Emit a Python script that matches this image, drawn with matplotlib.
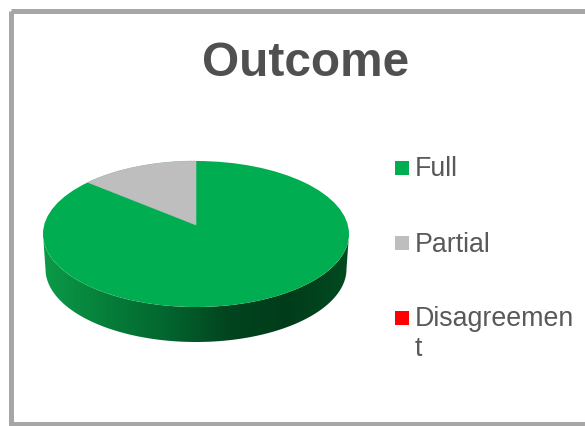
import numpy as np
import matplotlib
matplotlib.use("Agg")
import matplotlib.pyplot as plt
from matplotlib.patches import Rectangle, Polygon, Ellipse
from matplotlib.colors import LinearSegmentedColormap

plt.rcParams['font.family'] = ['Liberation Sans', 'DejaVu Sans']

# data
categories = ["Full", "Partial", "Disagreement"]
values = [7, 1, 0]
colors = ["#00AD50", "#BEBEBE", "#FF0000"]
legend_labels = ["Full", "Partial", "Disagreemen\nt"]
side_colors = ["#0B9A48", "#067F3A", "#03662F", "#02451F", "#013C1A", "#024A20"]

fig = plt.figure(figsize=(5.85, 4.26), dpi=100)
ax = fig.add_axes([0, 0, 1, 1])
ax.set_xlim(0, 585)
ax.set_ylim(426, 0)
ax.axis("off")

# frame, runs off the right side
ax.add_patch(Rectangle((10.5, 10.5), 600, 413.5, fill=False, ec="#A6A6A6", lw=3.6))

ax.text(305.5, 76, "Outcome", fontsize=34.4, fontweight="bold", color="#505050",
        ha="center", va="baseline")

# pie geometry in pixels
cx, cy = 196, 234
rx, ry = 153, 73
apex_y = 225
depth = 35

# side of the pie with gradient
t = np.linspace(0, np.pi, 200)
top_x = cx + rx * np.cos(t)
top_y = cy + ry * np.sin(t)
bot_x = cx + (rx - 2.5) * np.cos(t)
bot_y = cy + depth + ry * np.sin(t)
side = Polygon(np.r_[np.c_[top_x, top_y], np.c_[bot_x[::-1], bot_y[::-1]]],
               closed=True, fc="none", ec="none", transform=ax.transData)
ax.add_patch(side)
cmap = LinearSegmentedColormap.from_list("side", side_colors)
grad = np.linspace(0, 1, 256).reshape(1, -1)
im = ax.imshow(grad, cmap=cmap, extent=(cx - rx, cx + rx, cy + ry + depth, cy), aspect="auto", zorder=1)
im.set_clip_path(side)
ax.set_xlim(0, 585)
ax.set_ylim(426, 0)

# top face, slices run clockwise from 12 o'clock
ax.add_patch(Ellipse((cx, cy), 2 * rx, 2 * ry, fc=colors[0], ec="none", zorder=2))
total = sum(values)
start = values[0] / total * 2 * np.pi
stop = (values[0] + values[1]) / total * 2 * np.pi
a = np.linspace(start, stop, 60)
arc = np.c_[cx + rx * np.sin(a), cy - ry * np.cos(a)]
ax.add_patch(Polygon(np.r_[[[cx, apex_y]], arc], closed=True, fc=colors[1], ec=colors[1], lw=0.4, zorder=3))

# legend
rows = [168, 243, 318]
for lab, col, y in zip(legend_labels, colors, rows):
    ax.add_patch(Rectangle((395, y - 7), 14, 14, fc=col, ec="none"))
    ax.text(415, y - 11.5, lab, fontsize=19.3, color="#595959", ha="left", va="top", linespacing=1.19)

fig.savefig("out.png", dpi=100)
